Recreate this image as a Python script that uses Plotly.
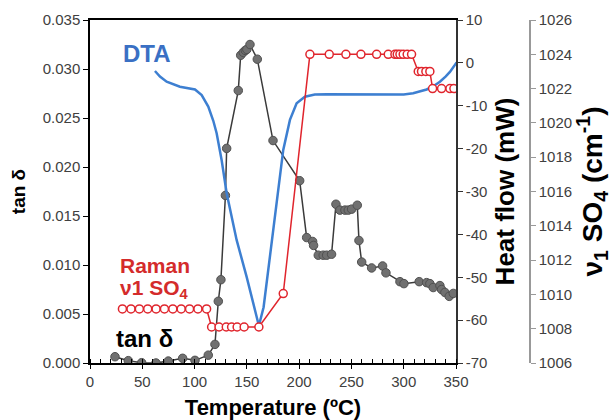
import plotly.graph_objects as go

# ---------------- data ----------------
temp_tan = [23.9, 36.6, 49.4, 63.1, 74.9, 88.6, 100.4, 113.1, 119.5, 122.7, 125.2, 129.5, 130.7,
            141.8, 144.1, 146.6, 148.5, 150.0, 153.0, 160.0, 175.0, 200.5, 207.2, 212.9, 213.8,
            218.3, 223.0, 226.3, 231.0, 235.2, 239.0, 243.8, 247.0, 250.2, 255.6, 257.2, 259.8,
            269.3, 279.8, 283.0, 296.4, 300.2, 314.8, 321.9, 325.0, 328.2, 334.6, 336.2, 339.4,
            343.5, 347.4]
tan_delta = [0.00064, 0.00024, 0.00003, 0.0000, 0.0002, 0.00048, 0.00027, 0.0008, 0.0019, 0.0063,
             0.0085, 0.0171, 0.0219, 0.0278, 0.0314, 0.0317, 0.0319, 0.0320, 0.0325, 0.0310, 0.0227,
             0.0186, 0.0128, 0.0124, 0.0120, 0.0110, 0.0110, 0.0110, 0.0111, 0.0162, 0.0156, 0.0156,
             0.0156, 0.0157, 0.0161, 0.0125, 0.0103, 0.0097, 0.0099, 0.0092, 0.0083, 0.0081, 0.0083,
             0.0082, 0.0081, 0.0077, 0.0079, 0.0075, 0.0072, 0.0068, 0.0071]

temp_dta = [62.1, 66.9, 73.3, 86.0, 100.4, 106.8, 113.1, 117.9, 121.1, 125.9, 130.7, 132.2, 140.2,
            149.8, 155.5, 161.5, 166.0, 172.0, 178.5, 184.8, 191.2, 197.6, 205.5, 215.0, 226.3,
            258.0, 290.0, 300.0, 309.0, 316.0, 321.9, 328.0, 334.6, 340.0, 344.2, 350.6]
heat_flow = [-1.9, -3.2, -4.4, -5.55, -6.2, -7.5, -10.2, -13.5, -16.4, -22.7, -30.4, -32.0, -41.3,
             -49.9, -55.5, -61.3, -57.0, -45.5, -33.0, -20.3, -13.3, -9.4, -7.9, -7.4, -7.3,
             -7.4, -7.5, -7.4, -7.1, -6.7, -6.2, -5.5, -4.4, -3.2, -2.1, 0.1]

temp_raman = [31.0, 39.2, 47.2, 55.2, 63.2, 71.2, 79.2, 87.2, 95.2, 103.2, 111.5,
              116.3, 123.4, 130.3, 135.4, 140.7, 147.4, 161.5,
              184.8,
              210.3, 228.8, 244.7, 259.1, 274.1, 285.2, 291.6, 293.8, 296.4, 299.5, 303.3, 307.5,
              313.9, 317.0, 321.2, 325.0,
              327.6, 336.2, 344.2, 348.0]
raman_shift = [1009.15] * 11 + [1008.1] * 7 + [1010.05] + [1024.0] * 12 + [1023.0] * 4 + [1022.0] * 4

x_ticks = [0, 50, 100, 150, 200, 250, 300, 350]
tan_ticks = [0.000, 0.005, 0.010, 0.015, 0.020, 0.025, 0.030, 0.035]
hf_ticks = [-70, -60, -50, -40, -30, -20, -10, 0, 10]
raman_ticks = [1006, 1008, 1010, 1012, 1014, 1016, 1018, 1020, 1022, 1024, 1026]

# ---------------- styling ----------------
FONT = "Liberation Sans, Arial, sans-serif"
BLUE = "#3d7fd1"
RED = "#e0252d"
TICKC = "#404040"

W, H = 616, 420
ML, MR, MT, MB = 90, 86, 20, 57
plot_right_px = 456
x_dom_end = (plot_right_px - ML) / (W - ML - MR)

fig = go.Figure()
fig.add_trace(go.Scatter(x=temp_dta, y=heat_flow, yaxis="y2", mode="lines",
                         line=dict(color=BLUE, width=2.5), hoverinfo="skip"))
fig.add_trace(go.Scatter(x=temp_tan, y=tan_delta, mode="lines+markers",
                         line=dict(color="#3a3a3a", width=1.5),
                         marker=dict(size=8.5, color="#707070", line=dict(color="#505050", width=1))))
fig.add_trace(go.Scatter(x=temp_raman, y=raman_shift, yaxis="y3", mode="lines+markers",
                         line=dict(color=RED, width=1.5),
                         marker=dict(size=8, color="white", line=dict(color=RED, width=1.5))))

tickfont = dict(family=FONT, size=15, color=TICKC)

fig.update_layout(
    width=W, height=H,
    margin=dict(l=ML, r=MR, t=MT, b=MB, pad=0, autoexpand=False),
    paper_bgcolor="white", plot_bgcolor="white",
    showlegend=False,
    font=dict(family=FONT),
    xaxis=dict(domain=[0, x_dom_end], range=[0, 350], tickvals=x_ticks, automargin=False,
               ticks="outside", ticklen=4, tickcolor="black", tickwidth=1,
               minor=dict(dtick=10, ticks="inside", ticklen=4, tickcolor="black", tickwidth=1),
               showline=True, linecolor="black", linewidth=1.5, mirror=True,
               showgrid=False, zeroline=False, tickfont=tickfont,
               title=dict(text="<b>Temperature (ºC)</b>", font=dict(family=FONT, size=22, color="black"),
                          standoff=11)),
    yaxis=dict(range=[0, 0.035], tickvals=tan_ticks, tickformat=".3f", automargin=False,
               ticks="outside", ticklen=5, tickcolor="black",
               showline=True, linecolor="black", linewidth=1.5,
               showgrid=False, zeroline=False, tickfont=tickfont,
               title=dict(text="<b>tan δ</b>", font=dict(family=FONT, size=19, color="black"),
                          standoff=12)),
    yaxis2=dict(overlaying="y", side="right", anchor="x", range=[-70, 10], automargin=False,
                tickvals=hf_ticks, ticktext=[str(v) for v in hf_ticks],
                ticks="outside", ticklen=5, tickcolor="#333333",
                showline=True, linecolor="#333333", linewidth=1.5,
                showgrid=False, zeroline=False, tickfont=tickfont,
                title=dict(text="<b>Heat flow (mW)</b>", font=dict(family=FONT, size=26, color="black"),
                           standoff=9)),
    yaxis3=dict(overlaying="y", side="right", anchor="free", position=1, range=[1006, 1026],
                automargin=False,
                tickvals=raman_ticks, ticks="outside", ticklen=5, tickcolor="#999999",
                showline=True, linecolor="#999999", linewidth=1.5,
                showgrid=False, zeroline=False, tickfont=tickfont,
                title=dict(text="<b>ν<sub>1</sub> SO<sub>4</sub> (cm<sup>-1</sup>)</b>",
                           font=dict(family=FONT, size=28, color="black"), standoff=8)),
    annotations=[
        dict(x=54.2, y=0.0316, xref="x", yref="y", text="<b>DTA</b>", showarrow=False,
             xanchor="center", yanchor="middle", font=dict(family=FONT, size=24, color="#3a70c4")),
        dict(x=26.5, y=0.0099, xref="x", yref="y", text="<b>Raman</b>", showarrow=False,
             xanchor="left", yanchor="middle", font=dict(family=FONT, size=21, color="#d42b2b")),
        dict(x=26.5, y=0.00755, xref="x", yref="y", text="<b>ν1 SO<sub>4</sub></b>", showarrow=False,
             xanchor="left", yanchor="middle", font=dict(family=FONT, size=21, color="#d42b2b")),
        dict(x=23.0, y=0.00245, xref="x", yref="y", text="<b>tan δ</b>", showarrow=False,
             xanchor="left", yanchor="middle", font=dict(family=FONT, size=24, color="black")),
    ],
)

fig.write_html("out.html", config={"displayModeBar": False},
               post_script="document.body.style.margin='0';document.body.style.overflow='hidden';")
